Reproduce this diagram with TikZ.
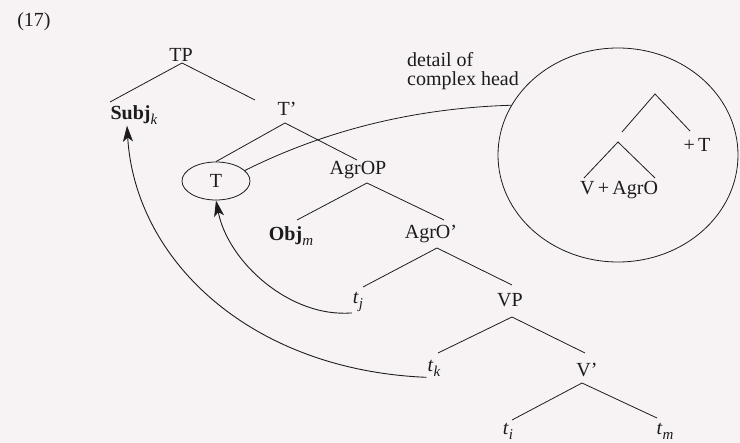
\documentclass[tikz,border=0pt]{standalone}
\usepackage{fontspec}
\setmainfont{Liberation Serif}
\usetikzlibrary{arrows.meta,shapes.geometric}
\definecolor{bg}{RGB}{247,243,244}
\definecolor{ink}{RGB}{28,28,28}
\newcommand{\sbx}[1]{\raisebox{-0.25em}{\fontsize{15}{15}\selectfont\textit{#1}}}
\begin{document}
\begin{tikzpicture}[x=1pt,y=-1pt,
  lbl/.style={inner sep=1pt, text=ink, font=\fontsize{20}{20}\selectfont},
  br/.style={draw=ink, line width=0.8pt},
  mv/.style={draw=ink, line width=0.9pt, -{Stealth[length=16pt,width=10pt,inset=4pt]}},
  oval/.style={ellipse, draw=ink, line width=0.8pt, inner sep=0pt}
]
\fill[bg] (0,0) rectangle (740,443);
\useasboundingbox (0,0) rectangle (740,443);

% labels
\node[lbl] (ex) at (34,22) {(17)};
\node[lbl] (TP) at (181,55) {TP};
\node[lbl] (Subj) at (134,115) {\textbf{Subj}\sbx{k}};
\node[lbl] (Tb) at (287,109) {T'};
\node[lbl, oval, minimum width=68pt, minimum height=38pt] (Tell) at (216,181) {T};
\node[lbl] (AgrOP) at (358,170) {AgrOP};
\node[lbl] (Obj) at (291,236) {\textbf{Obj}\sbx{m}};
\node[lbl] (AgrOb) at (431,234) {AgrO'};
\node[lbl] (tj) at (358,302) {\textit{t}\sbx{j}};
\node[lbl] (VP) at (510,300) {VP};
\node[lbl] (tk) at (434,368) {\textit{t}\sbx{k}};
\node[lbl] (Vb) at (587,370) {V'};
\node[lbl] (ti) at (508,431) {\textit{t}\sbx{i}};
\node[lbl] (tm) at (665,431) {\textit{t}\sbx{m}};

% detail circle
\node[oval, minimum width=240pt, minimum height=214pt] (circ) at (618,155) {};
\node[lbl, align=left, anchor=west, font=\fontsize{20}{19}\selectfont] (det) at (406,71) {detail of\\complex head};
\node[lbl] (pT) at (697,145) {+\,T};
\node[lbl] (VA) at (619,190) {V\,+\,AgrO};

% branch points
\coordinate (TPa) at (182,63);   \coordinate (TPl) at (110,102); \coordinate (TPr) at (255,100);
\coordinate (Ta)  at (285,123);  \coordinate (Tr)  at (357,160);
\coordinate (Aa)  at (367,183);  \coordinate (Al)  at (297,220); \coordinate (Ar)  at (444,220);
\coordinate (Ba)  at (437,248);  \coordinate (Bl)  at (363,287); \coordinate (Br)  at (512,285);
\coordinate (Va)  at (512,317);  \coordinate (Vl)  at (438,353); \coordinate (Vr)  at (585,353);
\coordinate (Wa)  at (582,383);  \coordinate (Wl)  at (512,420); \coordinate (Wr)  at (657,418);
\coordinate (Ca)  at (655,94);   \coordinate (Cl)  at (622,132); \coordinate (Cr)  at (690,131);
\coordinate (Da)  at (618,142);  \coordinate (Dl)  at (584,178); \coordinate (Dr)  at (655,178);

\draw[br] (TPl) -- (TPa) -- (TPr);
\draw[br] (Tell.north) -- (Ta) -- (Tr);
\draw[br] (Al) -- (Aa) -- (Ar);
\draw[br] (Bl) -- (Ba) -- (Br);
\draw[br] (Vl) -- (Va) -- (Vr);
\draw[br] (Wl) -- (Wa) -- (Wr);
\draw[br] (Cl) -- (Ca) -- (Cr);
\draw[br] (Dl) -- (Da) -- (Dr);

% link from T to detail circle
\draw[br] (Tell.20) .. controls (330,128) and (420,108) .. (circ.155);

% movement arrows
\draw[mv] (tj.south west) .. controls (290,318) and (228,262) .. (Tell.south);
\draw[mv] (tk.south west) .. controls (250,370) and (135,260) .. ([xshift=-7pt]Subj.south);
\end{tikzpicture}
\end{document}
